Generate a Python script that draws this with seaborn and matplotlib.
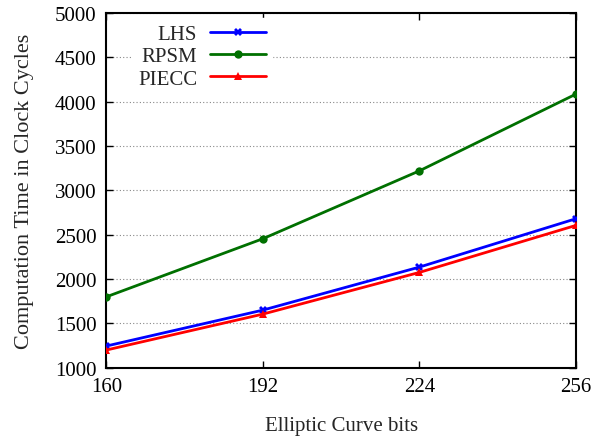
import pandas as pd
import seaborn as sns
import matplotlib.pyplot as plt

bits = [160, 192, 224, 256]
lhs = [1245, 1650, 2135, 2680]
rpsm = [1800, 2455, 3220, 4085]
piecc = [1200, 1605, 2075, 2605]

series_names = ["LHS", "RPSM", "PIECC"]
series_colors = ["#0000ff", "#007000", "#ff0000"]
series_markers = ["X", "o", "^"]

df = pd.DataFrame({"bits": bits * 3,
                   "cycles": lhs + rpsm + piecc,
                   "method": [n for n in series_names for _ in bits]})

sns.set_theme(style="ticks")
plt.rcParams["font.family"] = ["Liberation Serif", "DejaVu Serif"]

fig, ax = plt.subplots(figsize=(6.01, 4.39), dpi=100)
fig.subplots_adjust(left=0.177, right=0.958, top=0.968, bottom=0.16)

sns.lineplot(data=df, x="bits", y="cycles", hue="method", style="method",
             hue_order=series_names, style_order=series_names,
             palette=series_colors, markers=series_markers, dashes=False,
             linewidth=2, markersize=6, markeredgewidth=0, ax=ax, zorder=3)

ax.set_xlim(160, 256)
ax.set_ylim(1000, 5000)
ax.set_xticks(bits)
ax.set_yticks(range(1000, 5001, 500))
ax.yaxis.grid(True, linestyle=(0, (1, 2)), color="#888888", linewidth=0.8)
ax.tick_params(direction="in", top=True, right=True, labelsize=15,
               length=5, width=1, colors="black", pad=7)
for s in ax.spines.values():
    s.set_linewidth(1.5)
    s.set_color("black")
ax.set_xlabel("Elliptic Curve bits", fontsize=15, labelpad=14)
ax.set_ylabel("Computation Time in Clock Cycles", fontsize=16, labelpad=15)

leg = ax.legend(loc="upper left", bbox_to_anchor=(0.043, 1.0), fontsize=15,
                frameon=True, framealpha=1, edgecolor="white", fancybox=False,
                markerfirst=False, handlelength=2.7, labelspacing=0.13,
                borderpad=0.3, handletextpad=0.6, borderaxespad=0.25)
for t in leg.get_texts():
    t.set_ha("right")
leg.set_zorder(5)

plt.savefig("out.png", dpi=100)
